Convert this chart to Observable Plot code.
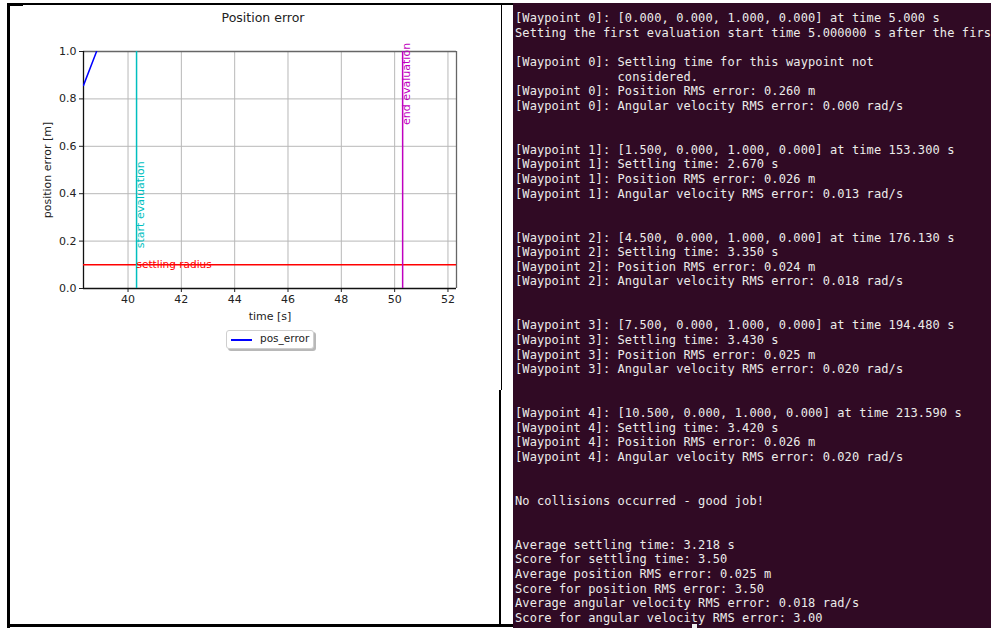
<!DOCTYPE html>
<html>
<head>
<meta charset="utf-8">
<script src="https://cdn.jsdelivr.net/npm/d3@7"></script>
<script src="https://cdn.jsdelivr.net/npm/@observablehq/plot@0.6"></script>
<style>
  body { margin: 0; background: #fff; }
  #page { position: relative; width: 991px; height: 628px; background: #fff; overflow: hidden; }
  .blk { position: absolute; background: #000; }
  #title { position: absolute; left: 10px; top: 10px; width: 506px; text-align: center;
           font-family: "DejaVu Sans", sans-serif; font-size: 12.5px; color: #222; }
  #chart { position: absolute; left: 10px; top: 30px; }
  #legend { position: absolute; left: 226px; top: 330px; width: 86px; height: 17px;
            border: 1px solid #cfcfcf; border-radius: 3px; background: #fff;
            box-shadow: 2px 2px 0 #b8b8b8; font-family: "DejaVu Sans", sans-serif;
            font-size: 10.5px; color: #222; }
  #legend .sw { position: absolute; left: 4px; top: 8px; width: 21px; height: 1.5px; background: #0000ff; }
  #legend .lb { position: absolute; left: 33px; top: 1px; }
  #term { position: absolute; left: 513px; top: 3px; width: 478px; height: 625px; background: #300a24; overflow: hidden; }
  #term pre { margin: 0; padding: 8.2px 0 0 2px; font-family: "DejaVu Sans Mono", monospace;
              font-size: 12px; letter-spacing: 0.1px; line-height: 14.63px; color: #ececea; white-space: pre; }
  #cursor { position: absolute; left: 179px; top: 621px; width: 5px; height: 4px; background: #eee; }
</style>
</head>
<body>
<div id="page">
  <div class="blk" style="left:7px;top:3px;width:3px;height:625px"></div>
  <div class="blk" style="left:7px;top:3px;width:16px;height:3px"></div>
  <div class="blk" style="left:7px;top:3px;width:506px;height:2px"></div>
  <div class="blk" style="left:7px;top:624px;width:506px;height:3px"></div>
  <div class="blk" style="left:501px;top:3px;width:1px;height:387px"></div>
  <div class="blk" style="left:499px;top:390px;width:2px;height:237px"></div>
  <div id="title">Position error</div>
  <div id="chart"></div>
  <div id="legend"><div class="sw"></div><div class="lb">pos_error</div></div>
  <div id="term"><pre id="termtext"></pre><div id="cursor"></div></div>
</div>
<script>
// ---- chart data ----
const timeTicks = [40, 42, 44, 46, 48, 50, 52];
const errorTicks = [0, 0.2, 0.4, 0.6, 0.8, 1.0];
const timeDomain = [38.33, 52.32];
const errorDomain = [0, 1];
const posErrorTime = [38.33, 38.82];
const posErrorValue = [0.857, 1.0];
const startEvalTime = [40.32];
const endEvalTime = [50.3];
const settlingRadius = [0.1];
const startLabelY = [0.17];
const endLabelY = [0.69];

// ---- terminal text (as visible in the screenshot) ----
const terminalLines = [
  "[Waypoint 0]: [0.000, 0.000, 1.000, 0.000] at time 5.000 s",
  "Setting the first evaluation start time 5.000000 s after the firs",
  "",
  "[Waypoint 0]: Settling time for this waypoint not",
  "              considered.",
  "[Waypoint 0]: Position RMS error: 0.260 m",
  "[Waypoint 0]: Angular velocity RMS error: 0.000 rad/s",
  "",
  "",
  "[Waypoint 1]: [1.500, 0.000, 1.000, 0.000] at time 153.300 s",
  "[Waypoint 1]: Settling time: 2.670 s",
  "[Waypoint 1]: Position RMS error: 0.026 m",
  "[Waypoint 1]: Angular velocity RMS error: 0.013 rad/s",
  "",
  "",
  "[Waypoint 2]: [4.500, 0.000, 1.000, 0.000] at time 176.130 s",
  "[Waypoint 2]: Settling time: 3.350 s",
  "[Waypoint 2]: Position RMS error: 0.024 m",
  "[Waypoint 2]: Angular velocity RMS error: 0.018 rad/s",
  "",
  "",
  "[Waypoint 3]: [7.500, 0.000, 1.000, 0.000] at time 194.480 s",
  "[Waypoint 3]: Settling time: 3.430 s",
  "[Waypoint 3]: Position RMS error: 0.025 m",
  "[Waypoint 3]: Angular velocity RMS error: 0.020 rad/s",
  "",
  "",
  "[Waypoint 4]: [10.500, 0.000, 1.000, 0.000] at time 213.590 s",
  "[Waypoint 4]: Settling time: 3.420 s",
  "[Waypoint 4]: Position RMS error: 0.026 m",
  "[Waypoint 4]: Angular velocity RMS error: 0.020 rad/s",
  "",
  "",
  "No collisions occurred - good job!",
  "",
  "",
  "Average settling time: 3.218 s",
  "Score for settling time: 3.50",
  "Average position RMS error: 0.025 m",
  "Score for position RMS error: 3.50",
  "Average angular velocity RMS error: 0.018 rad/s",
  "Score for angular velocity RMS error: 3.00"
];
document.getElementById("termtext").textContent = terminalLines.join("\n");

const posData = posErrorTime.map((t, i) => ({t, v: posErrorValue[i]}));

const chart = Plot.plot({
  width: 480,
  height: 300,
  marginLeft: 73,
  marginRight: 34,
  marginTop: 21,
  marginBottom: 42,
  style: {fontFamily: "DejaVu Sans, sans-serif", fontSize: "11px", color: "#222", background: "transparent", overflow: "visible"},
  x: {domain: timeDomain, label: null},
  y: {domain: errorDomain, label: null},
  marks: [
    Plot.gridX(timeTicks, {stroke: "#b8b8b8", strokeOpacity: 1, strokeWidth: 1}),
    Plot.gridY(errorTicks, {stroke: "#b8b8b8", strokeOpacity: 1, strokeWidth: 1}),
    Plot.axisX(timeTicks, {tickSize: 4, tickPadding: 3, tickFormat: d => String(d), fontSize: 11, label: null, stroke: "#222"}),
    Plot.axisY(errorTicks, {tickSize: 4, tickPadding: 3, tickFormat: d => d.toFixed(1), fontSize: 11, label: null, stroke: "#222"}),
    Plot.ruleY([errorDomain[1]], {stroke: "#666", strokeWidth: 1.3}),
    Plot.ruleX([timeDomain[1]], {stroke: "#666", strokeWidth: 1.3}),
    Plot.ruleY([errorDomain[0]], {stroke: "#111", strokeWidth: 1.3}),
    Plot.ruleX([timeDomain[0]], {stroke: "#111", strokeWidth: 1.3}),
    Plot.ruleY(settlingRadius, {stroke: "#ff0000", strokeWidth: 1.5}),
    Plot.ruleX(startEvalTime, {stroke: "#00bfbf", strokeWidth: 1.5}),
    Plot.ruleX(endEvalTime, {stroke: "#bf00bf", strokeWidth: 1.5}),
    Plot.line(posData, {x: "t", y: "v", stroke: "#0000ff", strokeWidth: 1.5, clip: true}),
    Plot.text(settlingRadius.map(v => ({x: startEvalTime[0], y: v})), {x: "x", y: "y", text: () => "settling radius", fill: "#ff0000", textAnchor: "start", lineAnchor: "bottom", fontSize: 10.5, dy: 3}),
    Plot.text(startLabelY.map(v => ({x: startEvalTime[0], y: v})), {x: "x", y: "y", text: () => "start evaluation", fill: "#00bfbf", rotate: -90, textAnchor: "start", fontSize: 11, dx: 4}),
    Plot.text(endLabelY.map(v => ({x: endEvalTime[0], y: v})), {x: "x", y: "y", text: () => "end evaluation", fill: "#bf00bf", rotate: -90, textAnchor: "start", fontSize: 11, dx: 4}),
    Plot.text(["time [s]"], {frameAnchor: "bottom", dy: 31, fontSize: 11, fill: "#222"}),
    Plot.text(["position error [m]"], {frameAnchor: "left", rotate: -90, textAnchor: "middle", dx: -36, fontSize: 11, fill: "#222"})
  ]
});
document.getElementById("chart").appendChild(chart);
</script>
</body>
</html>
